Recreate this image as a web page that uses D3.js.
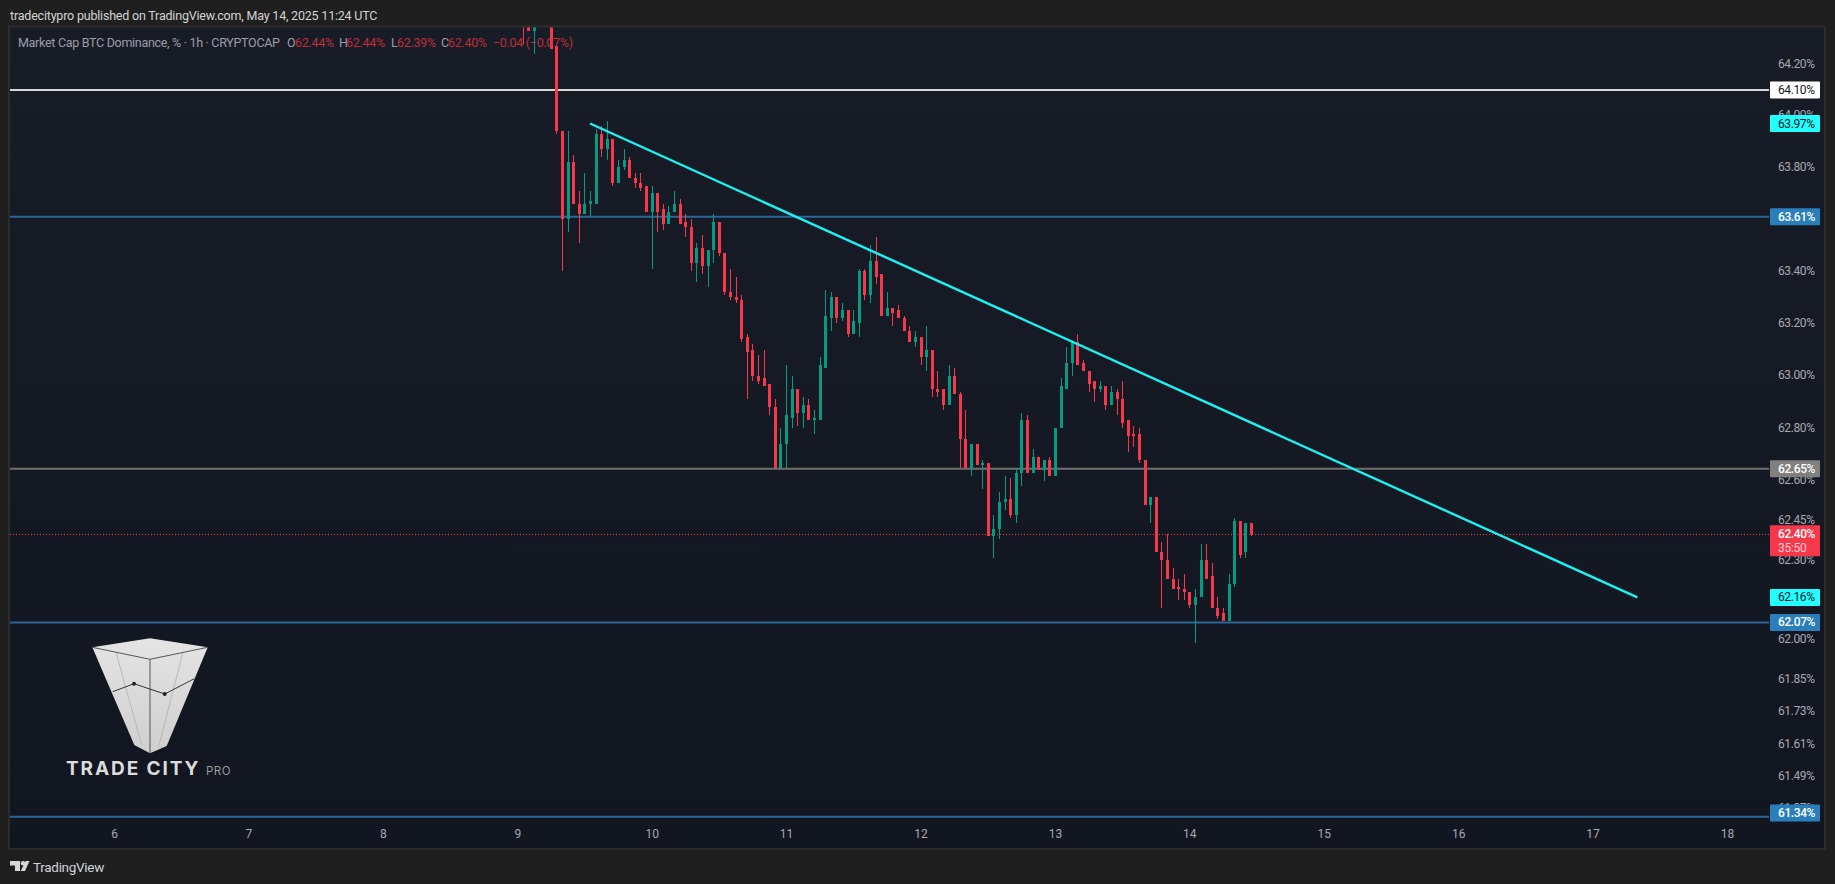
<!DOCTYPE html>
<html>
<head>
<meta charset="utf-8">
<script src="https://cdn.jsdelivr.net/npm/d3@7"></script>
<style>
  html, body { margin: 0; background: #1f1f1f; overflow: hidden; }
  text { font-family: Roboto, sans-serif; }
</style>
</head>
<body>
<svg id="chart" width="1835" height="884"></svg>
<script>
// hourly candles, one row per day, first candle is May 9 01:00 UTC
const firstCandle = Date.UTC(2025, 4, 9, 1)
const opens = [
  64.45, 64.40, 64.33, 64.40, 64.38, 64.42, 64.27, 63.94, 63.60, 63.82, 63.66, 63.62, 63.66, 63.66, 63.93, 63.87, 63.91, 63.74, 63.80, 63.83, 63.76, 63.74, 63.73,
  63.63, 63.70, 63.64, 63.58, 63.63, 63.66, 63.59, 63.57, 63.43, 63.49, 63.42, 63.48, 63.59, 63.47, 63.32, 63.30, 63.29, 63.15, 63.10, 63.00, 62.99, 62.97, 62.88, 62.65,
  62.74, 62.84, 62.95, 62.86, 62.89, 62.83, 62.83, 63.03, 63.22, 63.30, 63.22, 63.25, 63.16, 63.20, 63.40, 63.31, 63.44, 63.39, 63.23, 63.26, 63.25, 63.22, 63.17, 63.13,
  63.15, 63.07, 63.10, 62.95, 62.95, 62.89, 63.00, 62.93, 62.76, 62.65, 62.74, 62.66, 62.67, 62.39, 62.42, 62.52, 62.53, 62.47, 62.63, 62.83, 62.63, 62.69, 62.64, 62.68,
  62.62, 62.80, 62.95, 63.05, 63.13, 63.05, 63.02, 62.98, 62.95, 62.96, 62.89, 62.94, 62.91, 62.83, 62.78, 62.78, 62.68, 62.51, 62.54, 62.33, 62.30, 62.23, 62.20, 62.19,
  62.18, 62.13, 62.16, 62.30, 62.24, 62.12, 62.10, 62.07, 62.21, 62.45, 62.33, 62.44
]
const highs = [
  64.50, 64.42, 64.40, 64.45, 64.44, 64.44, 64.27, 63.94, 63.94, 63.85, 63.71, 63.78, 63.71, 63.95, 63.96, 63.98, 63.91, 63.83, 63.87, 63.84, 63.78, 63.78, 63.73,
  63.73, 63.70, 63.66, 63.65, 63.71, 63.68, 63.62, 63.60, 63.51, 63.54, 63.48, 63.62, 63.59, 63.47, 63.41, 63.38, 63.31, 63.16, 63.12, 63.08, 63.10, 62.97, 62.91, 62.80,
  63.04, 63.00, 62.95, 62.92, 62.91, 62.87, 63.07, 63.33, 63.32, 63.30, 63.28, 63.25, 63.25, 63.41, 63.41, 63.50, 63.53, 63.39, 63.32, 63.26, 63.27, 63.23, 63.19, 63.17,
  63.15, 63.19, 63.10, 63.02, 62.95, 63.04, 63.03, 62.94, 62.87, 62.74, 62.74, 62.68, 62.67, 62.47, 62.56, 62.62, 62.61, 62.65, 62.86, 62.85, 62.72, 62.69, 62.68, 62.69,
  62.80, 62.99, 63.11, 63.13, 63.16, 63.06, 63.02, 62.98, 62.98, 62.96, 62.96, 62.95, 62.98, 62.83, 62.81, 62.80, 62.68, 62.54, 62.54, 62.37, 62.40, 62.27, 62.23, 62.25,
  62.18, 62.19, 62.36, 62.36, 62.29, 62.16, 62.12, 62.25, 62.46, 62.45, 62.44, 62.44
]
const lows = [
  64.28, 64.33, 64.24, 64.36, 64.36, 64.26, 63.93, 63.40, 63.55, 63.66, 63.51, 63.62, 63.61, 63.66, 63.84, 63.83, 63.73, 63.74, 63.79, 63.76, 63.72, 63.71, 63.63,
  63.41, 63.55, 63.56, 63.58, 63.63, 63.58, 63.53, 63.40, 63.36, 63.39, 63.34, 63.43, 63.46, 63.31, 63.29, 63.28, 63.13, 62.91, 62.98, 62.97, 62.96, 62.85, 62.65, 62.64,
  62.65, 62.80, 62.81, 62.80, 62.83, 62.78, 62.83, 63.03, 63.17, 63.20, 63.21, 63.15, 63.16, 63.15, 63.29, 63.28, 63.35, 63.23, 63.23, 63.19, 63.22, 63.17, 63.13, 63.11,
  63.04, 63.02, 62.92, 62.92, 62.87, 62.89, 62.93, 62.65, 62.65, 62.62, 62.66, 62.57, 62.39, 62.31, 62.38, 62.49, 62.46, 62.44, 62.58, 62.63, 62.63, 62.64, 62.60, 62.62,
  62.62, 62.80, 62.95, 63.00, 63.04, 63.02, 62.94, 62.90, 62.94, 62.87, 62.89, 62.85, 62.80, 62.71, 62.73, 62.67, 62.51, 62.44, 62.33, 62.12, 62.23, 62.19, 62.15, 62.15,
  62.12, 61.99, 62.16, 62.23, 62.12, 62.08, 62.07, 62.07, 62.20, 62.31, 62.31, 62.39
]
const closes = [
  64.40, 64.33, 64.40, 64.38, 64.42, 64.26, 63.94, 63.60, 63.82, 63.66, 63.62, 63.66, 63.67, 63.93, 63.87, 63.91, 63.74, 63.80, 63.83, 63.76, 63.74, 63.72, 63.63,
  63.70, 63.63, 63.58, 63.63, 63.66, 63.58, 63.57, 63.43, 63.49, 63.42, 63.48, 63.59, 63.47, 63.32, 63.30, 63.29, 63.14, 63.09, 63.00, 62.98, 62.96, 62.88, 62.65, 62.74,
  62.85, 62.95, 62.86, 62.89, 62.83, 62.84, 63.04, 63.23, 63.30, 63.22, 63.25, 63.16, 63.21, 63.40, 63.31, 63.44, 63.38, 63.23, 63.26, 63.24, 63.22, 63.17, 63.13, 63.15,
  63.07, 63.10, 62.95, 62.94, 62.89, 63.00, 62.93, 62.76, 62.65, 62.74, 62.66, 62.67, 62.39, 62.42, 62.52, 62.53, 62.47, 62.63, 62.83, 62.63, 62.69, 62.64, 62.68, 62.62,
  62.80, 62.96, 63.05, 63.13, 63.04, 63.02, 62.97, 62.95, 62.96, 62.89, 62.94, 62.91, 62.82, 62.77, 62.77, 62.68, 62.51, 62.54, 62.33, 62.30, 62.23, 62.19, 62.19, 62.18,
  62.13, 62.16, 62.30, 62.23, 62.12, 62.09, 62.07, 62.21, 62.45, 62.32, 62.44, 62.40
]

const priceTicks = [64.2, 64.0, 63.8, 63.4, 63.2, 63.0, 62.8, 62.6, 62.45, 62.3, 62.0, 61.85, 61.73, 61.61, 61.49, 61.37]
const dayTicks = [6, 7, 8, 9, 10, 11, 12, 13, 14, 15, 16, 17, 18]

// unrounded levels, the labels show them with two decimals
const levelValues = [64.10, 63.61, 62.646, 62.066, 61.34]
const levelLines = ['#d6d6d6', '#2a6797', '#6f6f6f', '#2a6797', '#2a6797']
const levelBoxes = ['#ffffff', '#2a7fba', '#808080', '#2a7fba', '#2a7fba']
const levelTexts = ['#131722', '#ffffff', '#ffffff', '#ffffff', '#ffffff']

const trendTimes = [Date.UTC(2025, 4, 9, 13), Date.UTC(2025, 4, 17, 8)]
const trendValues = [63.97, 62.16]
const lastPrice = 62.40

const upColor = '#089981'
const downColor = '#f7374a'

const panel = { left: 10, top: 27.5, right: 1769, bottom: 848, outer: 1824 }

// the price axis is logarithmic, the tick spacing widens towards the bottom
const x = d3.scaleUtc()
  .domain([Date.UTC(2025, 4, 6), Date.UTC(2025, 4, 18)])
  .range([114, 1727])
const y = d3.scaleLog()
  .domain([61.34, 64.10])
  .range([816.7, 90])

const svg = d3.select('#chart')
const defs = svg.append('defs')

const bg = defs.append('linearGradient').attr('id', 'panelFill')
  .attr('x1', 0).attr('x2', 0).attr('y1', 0).attr('y2', 1)
bg.append('stop').attr('offset', 0).attr('stop-color', '#181c27')
bg.append('stop').attr('offset', 1).attr('stop-color', '#121620')

const cone = defs.append('linearGradient').attr('id', 'coneFill')
  .attr('x1', 0).attr('x2', 0).attr('y1', 0).attr('y2', 1)
cone.append('stop').attr('offset', 0).attr('stop-color', '#e4e4e4')
cone.append('stop').attr('offset', 1).attr('stop-color', '#cfcfcf')

defs.append('clipPath').attr('id', 'plotClip').append('rect')
  .attr('x', panel.left).attr('y', panel.top)
  .attr('width', panel.right - panel.left).attr('height', panel.bottom - panel.top)

svg.append('rect')
  .attr('x', panel.left - 1).attr('y', panel.top - 1)
  .attr('width', panel.outer - panel.left + 2).attr('height', panel.bottom - panel.top + 2)
  .attr('fill', 'url(#panelFill)')
  .attr('stroke', '#2c2c2e').attr('stroke-width', 2)

svg.append('text').attr('x', 10).attr('y', 19.5)
  .attr('fill', '#d4d4d4').attr('font-size', 12.5).attr('letter-spacing', -0.2)
  .text('tradecitypro published on TradingView.com, May 14, 2025 11:24 UTC')

drawLogo()

const plot = svg.append('g').attr('clip-path', 'url(#plotClip)')

plot.selectAll('line.level').data(levelValues).join('line')
  .attr('class', 'level')
  .attr('x1', panel.left).attr('x2', panel.right)
  .attr('y1', d => y(d)).attr('y2', d => y(d))
  .attr('stroke', (d, i) => levelLines[i]).attr('stroke-width', 2)

plot.append('line')
  .attr('x1', panel.left).attr('x2', panel.right)
  .attr('y1', Math.round(y(lastPrice)) + 0.5).attr('y2', Math.round(y(lastPrice)) + 0.5)
  .attr('stroke', downColor).attr('stroke-dasharray', '1 2')

const candles = plot.selectAll('g.candle').data(opens).join('g').attr('class', 'candle')
const candleX = i => Math.round(x(d3.utcHour.offset(firstCandle, i)))
const candleColor = i => closes[i] >= opens[i] ? upColor : downColor

candles.append('rect')
  .attr('x', (d, i) => candleX(i))
  .attr('width', 1)
  .attr('y', (d, i) => Math.round(y(highs[i])))
  .attr('height', (d, i) => Math.max(1, Math.round(y(lows[i])) - Math.round(y(highs[i]))))
  .attr('fill', (d, i) => candleColor(i))

candles.append('rect')
  .attr('x', (d, i) => candleX(i) - 1)
  .attr('width', 3)
  .attr('y', (d, i) => Math.round(y(Math.max(opens[i], closes[i]))))
  .attr('height', (d, i) => Math.max(1, Math.round(y(Math.min(opens[i], closes[i]))) - Math.round(y(Math.max(opens[i], closes[i])))))
  .attr('fill', (d, i) => candleColor(i))

plot.append('path')
  .attr('d', d3.line().x(d => x(d[0])).y(d => y(d[1]))(d3.zip(trendTimes, trendValues)))
  .attr('fill', 'none').attr('stroke', '#1cf2f2').attr('stroke-width', 2.4)

drawLegend()

const priceAxis = d3.axisRight(y)
  .tickValues(priceTicks)
  .tickFormat(d => d3.format('.2f')(d) + '%')
  .tickSize(0)
  .tickPadding(0)
const priceG = svg.append('g').attr('transform', `translate(${panel.right + 9},-1)`).call(priceAxis)
priceG.select('.domain').remove()
priceG.selectAll('text').attr('fill', '#a6a9b2').attr('font-size', 12).attr('letter-spacing', -0.4).attr('font-family', 'Roboto, sans-serif')

const timeAxis = d3.axisBottom(x)
  .tickValues(dayTicks.map(d => Date.UTC(2025, 4, d)))
  .tickFormat(d3.utcFormat('%-d'))
  .tickSize(0)
  .tickPadding(0)
const timeG = svg.append('g').attr('transform', 'translate(0,829)').call(timeAxis)
timeG.select('.domain').remove()
timeG.selectAll('text').attr('fill', '#a6a9b2').attr('font-size', 12).attr('font-family', 'Roboto, sans-serif')

// price labels in the axis, they sit on top of the tick labels
const priceBoxes = levelValues.map((d, i) => ({ v: d, fill: levelBoxes[i], color: levelTexts[i], weight: i > 0 ? 500 : 400 }))
trendValues.forEach(d => priceBoxes.push({ v: d, fill: '#22fdfd', color: '#131722', weight: 400 }))

priceBoxes.forEach(d => {
  // the lowest label is pushed up so it stays clear of the time axis
  const cy = Math.min(y(d.v), 813)
  svg.append('rect')
    .attr('x', panel.right + 1).attr('y', cy - 8.5)
    .attr('width', 50).attr('height', 17).attr('rx', 1)
    .attr('fill', d.fill)
  svg.append('text')
    .attr('x', panel.right + 9).attr('y', cy + 4)
    .attr('fill', d.color).attr('font-size', 12).attr('font-weight', d.weight).attr('letter-spacing', -0.4)
    .text(d3.format('.2f')(d.v) + '%')
})

const lastY = y(lastPrice)
svg.append('rect')
  .attr('x', panel.right + 1).attr('y', lastY - 8.5)
  .attr('width', 50).attr('height', 31).attr('rx', 1)
  .attr('fill', '#f7374a')
svg.append('text')
  .attr('x', panel.right + 9).attr('y', lastY + 4)
  .attr('fill', '#ffffff').attr('font-size', 12).attr('font-weight', 500).attr('letter-spacing', -0.4)
  .text(d3.format('.2f')(lastPrice) + '%')
svg.append('text')
  .attr('x', panel.right + 9).attr('y', lastY + 18)
  .attr('fill', '#ffd0d5').attr('font-size', 12).attr('letter-spacing', -0.3)
  .text('35:50')

drawFooter()

function drawLegend () {
  const g = svg.append('g').attr('font-size', 12.5).attr('letter-spacing', -0.3)
  const grey = '#b2b5be'
  const red = '#d9323f'
  const parts = [
    [18, 'Market Cap BTC Dominance, % · 1h · CRYPTOCAP', grey],
    [287, 'O', grey], [295, '62.44%', red],
    [339, 'H', grey], [346, '62.44%', red],
    [391, 'L', grey], [397, '62.39%', red],
    [441, 'C', grey], [448, '62.40%', red],
    [493, '−0.04 (−0.07%)', red]
  ]
  parts.forEach(p => {
    g.append('text').attr('x', p[0]).attr('y', 46.5).attr('fill', p[2]).attr('opacity', 0.85).text(p[1])
  })
}

function drawLogo () {
  const g = svg.append('g')
  g.append('path')
    .attr('d', 'M92.3 647.3 L150 638.3 L207.7 647.3 L166.7 746 L150 753.3 L134.3 745 Z')
    .attr('fill', 'url(#coneFill)')
  g.append('path')
    .attr('d', 'M116.3 653.3 L141.7 745 M182.7 653.3 L158.3 748')
    .attr('fill', 'none').attr('stroke', '#b0b0b0').attr('stroke-width', 0.8)
  g.append('path')
    .attr('d', 'M92.3 647.3 L150 659.3 L207.7 647.3 M150 659.3 L150 753')
    .attr('fill', 'none').attr('stroke', '#555').attr('stroke-width', 1)
  g.append('path')
    .attr('d', 'M112.7 691.7 L134 683.7 L164.7 694 L194.3 678.7')
    .attr('fill', 'none').attr('stroke', '#333').attr('stroke-width', 1)
  g.append('circle').attr('cx', 134).attr('cy', 683.7).attr('r', 2).attr('fill', '#222')
  g.append('circle').attr('cx', 164.7).attr('cy', 694).attr('r', 2).attr('fill', '#222')
  g.append('text').attr('x', 66).attr('y', 775)
    .attr('fill', '#dcdcdc').attr('font-size', 19).attr('font-weight', 700)
    .attr('letter-spacing', 1.9).style('font-family', 'Inter, sans-serif')
    .text('TRADE CITY')
  g.append('text').attr('x', 206).attr('y', 775)
    .attr('fill', '#9a9a9a').attr('font-size', 11.5).attr('letter-spacing', 0.5)
    .style('font-family', 'Inter, sans-serif')
    .text('PRO')
}

function drawFooter () {
  const g = svg.append('g').attr('fill', '#d8d8d8')
  g.append('path').attr('d', 'M10 861 H20 V871 H15 V865.5 H10 Z')
  g.append('circle').attr('cx', 23).attr('cy', 863.3).attr('r', 2.2)
  g.append('path').attr('d', 'M25.5 861 H29.5 L25 871 H20.8 Z')
  g.append('text').attr('x', 33).attr('y', 871.5)
    .attr('font-size', 13.5).attr('letter-spacing', -0.3).attr('fill', '#d1d4dc')
    .text('TradingView')
}
</script>
</body>
</html>
